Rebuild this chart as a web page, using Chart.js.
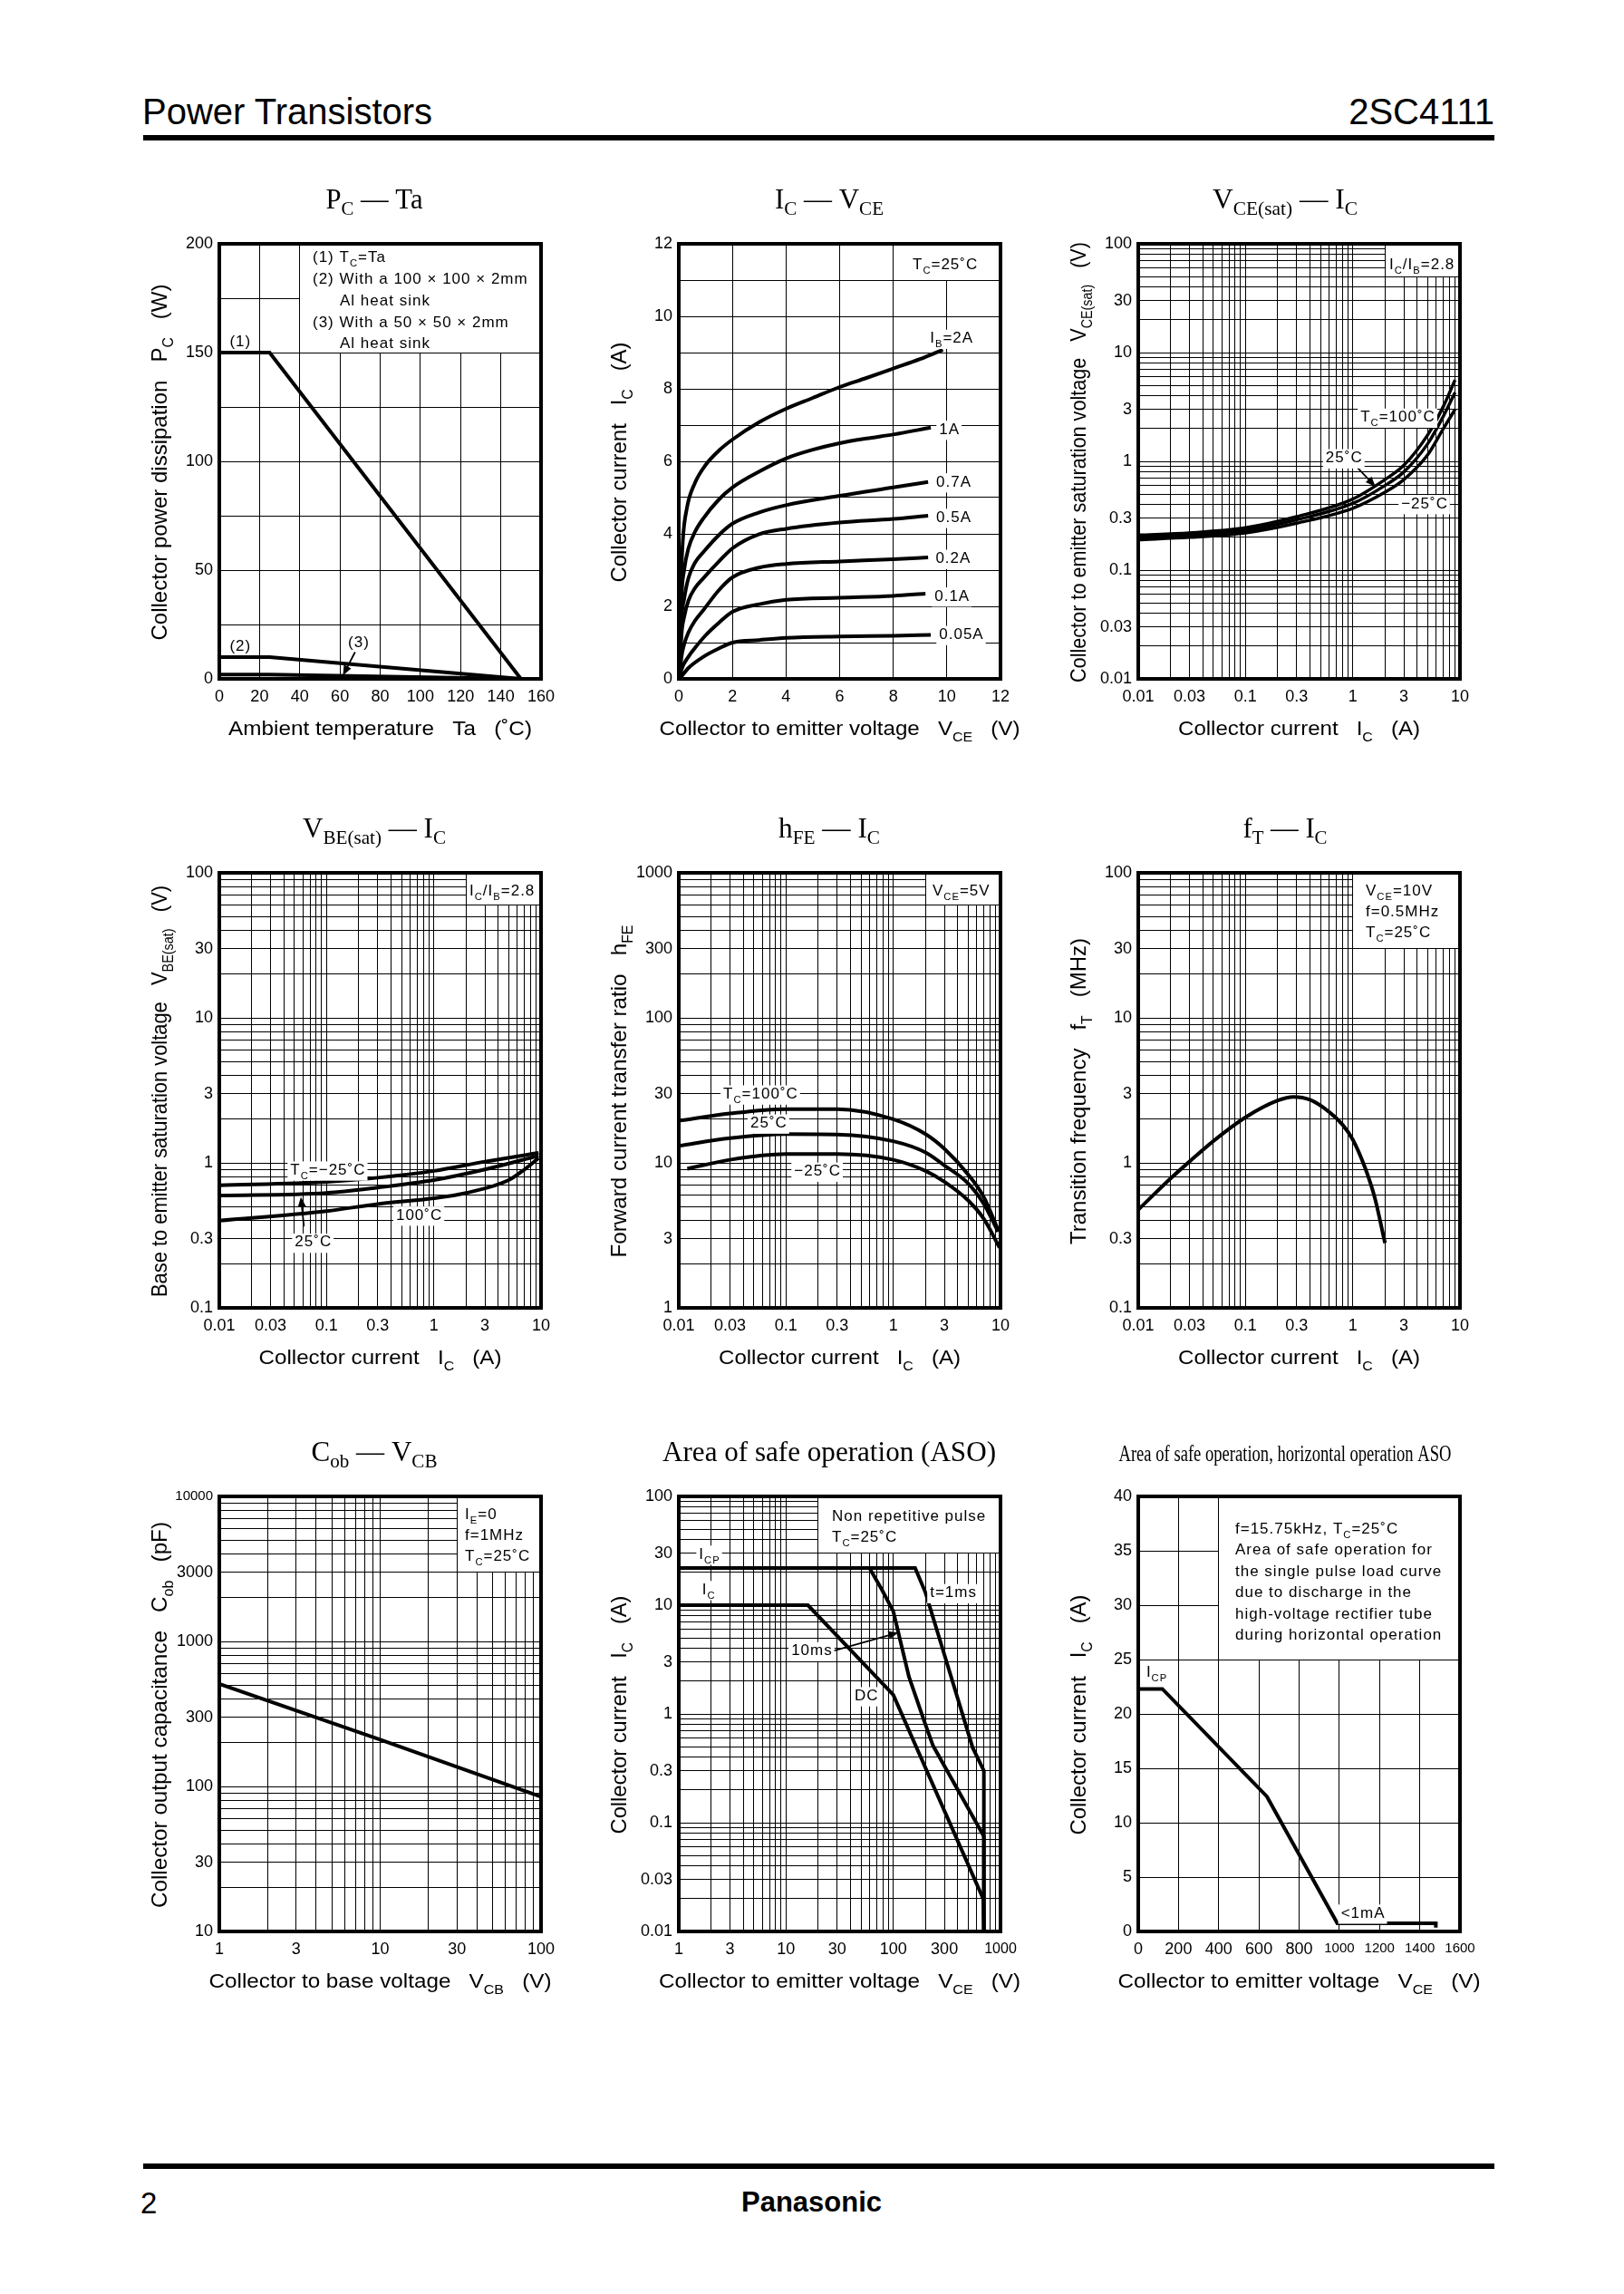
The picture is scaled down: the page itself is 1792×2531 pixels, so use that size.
<!DOCTYPE html>
<html>
<head>
<meta charset="utf-8">
<title>2SC4111</title>
<script src="https://cdn.jsdelivr.net/npm/chart.js@4.4.1/dist/chart.umd.min.js"></script>
<style>
  html, body { margin: 0; padding: 0; background: #fff; }
  body { position: relative; width: 1792px; height: 2531px; overflow: hidden; font-family: "Liberation Sans", Arial, sans-serif; color: #000; }
  .txt { position: absolute; white-space: nowrap; line-height: 1; }
  .rule { position: absolute; background: #000; }
  canvas { position: absolute; }
</style>
</head>
<body>
<div class="txt" style="left:157px; top:103px; font-size:40px;">Power Transistors</div>
<div class="txt" style="right:143px; top:103px; font-size:40px;">2SC4111</div>
<div class="rule" style="left:158px; top:149px; width:1491px; height:6px;"></div>
<div class="rule" style="left:158px; top:2387px; width:1491px; height:6px;"></div>
<div class="txt" style="left:155px; top:2414px; font-size:33px;">2</div>
<div class="txt" style="left:818px; top:2414px; font-size:31px; font-weight:bold;">Panasonic</div>

<script>
const SANS = '"Liberation Sans", Arial, Helvetica, sans-serif';
const SERIF = '"Liberation Serif", "Times New Roman", serif';

// ---------- values ----------
// Pc - Ta   [Ta (C), Pc (W)]
const pcTcEqTa = [[0,150],[25,150],[150,0]];
const pcSink100 = [[0,10],[25,10],[150,0]];
const pcSink50 = [[0,2],[25,2],[150,0]];
const taTicks = ['0','20','40','60','80','100','120','140','160'];
const pcTicks = ['0','50','100','150','200'];

// Ic - Vce   [Vce (V), Ic (A)]
const ib2A = [[0.03,0],[0.08,2.5],[0.15,3.8],[0.3,4.7],[0.6,5.4],[1,5.9],[1.5,6.3],[2,6.6],[3,7.08],[4,7.45],[5,7.75],[6,8.05],[7,8.3],[8,8.56],[9,8.82],[9.85,9.08]];
const ib1A = [[0.03,0],[0.1,2.2],[0.2,3.0],[0.36,3.6],[0.6,4.05],[0.92,4.43],[1.5,4.95],[2,5.28],[3,5.72],[4,6.08],[5,6.32],[6,6.5],[7,6.63],[8,6.74],[9.4,6.93]];
const ib07A = [[0.03,0],[0.1,1.6],[0.2,2.2],[0.36,2.78],[0.6,3.2],[0.92,3.5],[1.5,3.97],[2,4.28],[3,4.59],[4,4.79],[6,5.05],[8,5.28],[9.3,5.43]];
const ib05A = [[0.03,0],[0.1,1.2],[0.2,1.7],[0.36,2.16],[0.6,2.5],[0.92,2.78],[1.5,3.24],[2,3.6],[3,3.99],[4,4.14],[6,4.31],[8,4.41],[9.3,4.5]];
const ib02A = [[0.03,0],[0.1,0.6],[0.2,0.95],[0.36,1.28],[0.6,1.6],[0.92,1.9],[1.5,2.45],[2,2.8],[3,3.07],[4,3.17],[6,3.24],[8,3.3],[9.3,3.35]];
const ib01A = [[0.03,0],[0.1,0.25],[0.36,0.61],[0.6,0.85],[1,1.2],[1.5,1.55],[2,1.85],[3,2.06],[4,2.18],[6,2.24],[8,2.29],[9.2,2.35]];
const ib005A = [[0.03,0],[0.36,0.3],[0.92,0.61],[1.5,0.84],[2,1.0],[3,1.07],[4,1.13],[6,1.17],[8,1.19],[9.4,1.21]];
const vce12Ticks = ['0','2','4','6','8','10','12'];
const ic12Ticks = ['0','2','4','6','8','10','12'];

// Vce(sat) - Ic   [Ic (A), Vce(sat) (V)]
const vceSat100 = [[0.01,0.21],[0.03,0.22],[0.1,0.245],[0.3,0.31],[1,0.45],[2,0.68],[3,0.92],[5,1.75],[7,3.2],[9,5.6]];
const vceSat25 = [[0.01,0.2],[0.03,0.21],[0.1,0.232],[0.3,0.29],[1,0.41],[2,0.6],[3,0.8],[5,1.45],[7,2.6],[9,4.3]];
const vceSatM25 = [[0.01,0.19],[0.03,0.2],[0.1,0.22],[0.3,0.27],[1,0.37],[2,0.52],[3,0.68],[5,1.15],[7,2.0],[9,3.0]];
const icTicks = ['0.01','0.03','0.1','0.3','1','3','10'];
const vceSatTicks = ['0.01','0.03','0.1','0.3','1','3','10','30','100'];

// Vbe(sat) - Ic   [Ic (A), Vbe(sat) (V)]
const vbeSatM25 = [[0.01,0.70],[0.1,0.74],[0.3,0.79],[1,0.88],[3,1.02],[9.5,1.17]];
const vbeSat25 = [[0.01,0.595],[0.1,0.62],[0.3,0.675],[1,0.76],[3,0.9],[9.5,1.12]];
const vbeSat100 = [[0.01,0.40],[0.1,0.465],[0.3,0.52],[1,0.57],[2,0.62],[5,0.76],[7,0.9],[9.5,1.08]];
const vbeSatTicks = ['0.1','0.3','1','3','10','30','100'];

// hFE - Ic   [Ic (A), hFE]
const hfe100 = [[0.01,19.5],[0.03,21.9],[0.1,23.5],[0.3,23.5],[1,20],[2,15.8],[3,12.5],[5,8.3],[7,5.8],[9.5,3.45]];
const hfe25 = [[0.01,13.1],[0.03,14.8],[0.1,15.8],[0.3,15.7],[1,14.1],[2,11.8],[3,9.6],[5,7.2],[7,5.2],[9.5,3.35]];
const hfeM25 = [[0.012,9.1],[0.03,10.5],[0.1,11.5],[0.3,11.5],[1,10.5],[2,8.8],[3,7.4],[5,5.5],[7,4.1],[9.8,2.6]];
const hfeTicks = ['1','3','10','30','100','300','1000'];

// fT - Ic   [Ic (A), fT (MHz)]
const fT = [[0.01,0.475],[0.02,0.78],[0.03,1.02],[0.05,1.41],[0.1,2.06],[0.2,2.69],[0.28,2.85],[0.4,2.72],[0.6,2.25],[0.8,1.84],[1,1.45],[1.3,0.93],[1.6,0.58],[2,0.28]];
const fTTicks = ['0.1','0.3','1','3','10','30','100'];

// Cob - Vcb   [Vcb (V), Cob (pF)]
const cob = [[1,510],[10,210],[100,85]];
const vcbTicks = ['1','3','10','30','100'];
const cobTicks = ['10','30','100','300','1000','3000','10000'];

// ASO   [Vce (V), Ic (A)]
const aso1ms = [[1,22],[160,22],[200,13],[300,3.5],[550,0.49],[700,0.3],[700,0.01]];
const aso10ms = [[1,22],[60,22],[78,14],[100,8.8],[140,2.2],[195,0.85],[235,0.51],[700,0.075],[700,0.01]];
const asoDC = [[1,10],[16,10],[100,1.5],[690,0.02],[700,0.01]];
const asoVceTicks = ['1','3','10','30','100','300','1000'];
const asoIcTicks = ['0.01','0.03','0.1','0.3','1','3','10','30','100'];

// horizontal operation ASO   [Vce (V), Ic (A)]
const hAso = [[0,22.3],[120,22.3],[640,12.4],[990,0.75],[1480,0.75],[1480,0.35]];
const hVceTicks = ['0','200','400','600','800','1000','1200','1400','1600'];
const hIcTicks = ['0','5','10','15','20','25','30','35','40'];

// ---------- layout of the page ----------
const COLS = [242, 749, 1256];
const ROWS = [[269, 480], [963, 480], [1651, 480]];
const TITLE_DX = [171, 166, 162];
const PAD_L = 110, PAD_T = 75, PAD_R = 40, PAD_B = 88, PLOT_W = 355;
const TICK_FONT = { family: SANS, size: 18 };

function parseRich(s) {
  const out = []; const re = /_\{([^}]*)\}/g; let last = 0, m;
  while ((m = re.exec(s))) {
    if (m.index > last) out.push([s.slice(last, m.index), false]);
    out.push([m[1], true]);
    last = re.lastIndex;
  }
  if (last < s.length) out.push([s.slice(last), false]);
  return out;
}

function drawRich(ctx, str, x, y, o) {
  const size = o.size || 17, fam = o.family || SANS, wt = o.weight || 'normal';
  const subSize = size * (o.subScale || 0.66), drop = size * (o.subDrop || 0.3);
  const parts = parseRich(str);
  ctx.save();
  ctx.translate(x, y);
  if (o.rotate) ctx.rotate(o.rotate);
  if ('letterSpacing' in ctx) ctx.letterSpacing = (o.spacing || 0) + 'px';
  const widths = parts.map(([t, sub]) => { ctx.font = wt + ' ' + (sub ? subSize : size) + 'px ' + fam; return ctx.measureText(t).width; });
  const natural = widths.reduce((s, w) => s + w, 0);
  let k = 1;
  if (o.width) k = o.width / natural;
  else if (o.maxWidth && natural > o.maxWidth) k = o.maxWidth / natural;
  const tw = natural * k;
  const left = o.align === 'center' ? -tw / 2 : o.align === 'right' ? -tw : 0;
  if (o.bg) { ctx.fillStyle = '#fff'; ctx.fillRect(left - 3, -size * 0.85, tw + 5, size * 1.25); }
  ctx.scale(k, 1);
  ctx.fillStyle = '#000'; ctx.textAlign = 'left'; ctx.textBaseline = 'alphabetic';
  let cx = left / k;
  parts.forEach(([t, sub], i) => {
    ctx.font = wt + ' ' + (sub ? subSize : size) + 'px ' + fam;
    ctx.fillText(t, cx, sub ? drop : 0);
    cx += widths[i];
  });
  ctx.restore();
}

function decadeTicks(min, max) {
  const out = [];
  for (let e = Math.round(Math.log10(min)); e < Math.round(Math.log10(max)); e++)
    for (let m = 1; m < 10; m++) out.push(Number((m * Math.pow(10, e)).toPrecision(4)));
  out.push(max);
  return out;
}

function tickText(v, labels) {
  const hit = labels.find(l => Math.abs(Number(l) - v) <= 1e-9 + 1e-6 * Math.abs(v));
  return hit === undefined ? '' : hit;
}

function axis(isX, a) {
  const s = {
    type: a.log ? 'logarithmic' : 'linear',
    min: a.min, max: a.max,
    border: { display: false },
    grid: { color: '#000', lineWidth: 1, drawTicks: false },
    ticks: {
      color: '#000', font: a.font || TICK_FONT,
      padding: isX ? 9.5 : 7, autoSkip: false, maxRotation: 0, minRotation: 0,
      callback: v => tickText(v, a.labels)
    },
    afterFit: sc => {
      if (isX) sc.height = PAD_B; else sc.width = PAD_L;
      sc.paddingLeft = sc.paddingRight = sc.paddingTop = sc.paddingBottom = 0;
    }
  };
  if (a.log) s.afterBuildTicks = sc => { sc.ticks = decadeTicks(a.min, a.max).map(v => ({ value: v })); };
  else s.ticks.stepSize = a.step;
  return s;
}

// smaller face for the widest tick labels, as on the sheet
function shrinkFrom(limit, size) {
  return c => ({ family: SANS, size: c.tick && c.tick.value >= limit ? size : 18 });
}

function arrow(ctx, x0, y0, x1, y1) {
  const ang = Math.atan2(y1 - y0, x1 - x0), L = 11, W = 4.5;
  ctx.beginPath(); ctx.moveTo(x0, y0); ctx.lineTo(x1 - L * 0.7 * Math.cos(ang), y1 - L * 0.7 * Math.sin(ang));
  ctx.lineWidth = 1.8; ctx.stroke();
  ctx.beginPath();
  ctx.moveTo(x1, y1);
  ctx.lineTo(x1 - L * Math.cos(ang) + W * Math.sin(ang), y1 - L * Math.sin(ang) - W * Math.cos(ang));
  ctx.lineTo(x1 - L * Math.cos(ang) - W * Math.sin(ang), y1 - L * Math.sin(ang) + W * Math.cos(ang));
  ctx.closePath(); ctx.fill();
}

function paper(spec) {
  return {
    id: 'paper',
    beforeDatasetsDraw(chart) {
      const ctx = chart.ctx, a = chart.chartArea, X = chart.scales.x, Y = chart.scales.y;
      ctx.save();
      if (spec.box) {
        const lx = Math.round(X.getPixelForValue(spec.box[0]) - 0.5) + 1;
        const by = Math.round(Y.getPixelForValue(spec.box[1]) - 0.5);
        ctx.fillStyle = '#fff';
        ctx.fillRect(lx, a.top, a.right - lx, by - a.top);
      }
      ctx.strokeStyle = '#000'; ctx.lineWidth = 4;
      ctx.strokeRect(a.left, a.top, a.right - a.left, a.bottom - a.top);
      ctx.restore();
    },
    afterDatasetsDraw(chart) {
      const ctx = chart.ctx, a = chart.chartArea, X = chart.scales.x, Y = chart.scales.y;
      ctx.save();
      ctx.fillStyle = '#000'; ctx.strokeStyle = '#000';
      (spec.arrows || []).forEach(r => arrow(ctx, X.getPixelForValue(r[0]), Y.getPixelForValue(r[1]), X.getPixelForValue(r[2]), Y.getPixelForValue(r[3])));
      (spec.labels || []).forEach(l => {
        const o = l[3] || {};
        drawRich(ctx, l[2], X.getPixelForValue(l[0]), Y.getPixelForValue(l[1]) + 6, { size: 17, spacing: 1, align: o.align || 'left', bg: o.bg !== false });
      });
      (spec.notes || []).forEach(n => drawRich(ctx, n[2], a.left + n[0], a.top + n[1], { size: 17, spacing: 1 }));
      ctx.restore();
    },
    afterDraw(chart) {
      const ctx = chart.ctx, a = chart.chartArea;
      drawRich(ctx, spec.title, a.left + TITLE_DX[spec.col], a.top - 39,
        { size: spec.titleSize || 31, family: SERIF, align: 'center', subScale: 0.68, subDrop: 0.22, width: spec.titleW });
      drawRich(ctx, spec.xTitle, (a.left + a.right) / 2, a.bottom + 62,
        { size: 22, align: 'center', width: spec.xTitleW });
      drawRich(ctx, spec.yTitle, a.left - 58, (a.top + a.bottom) / 2 + 1,
        { size: 24, align: 'center', rotate: -Math.PI / 2, width: spec.yTitleW });
    }
  };
}

function panel(spec) {
  const [top, h] = ROWS[spec.row];
  const cv = document.createElement('canvas');
  cv.width = PLOT_W + PAD_L + PAD_R; cv.height = h + PAD_T + PAD_B;
  cv.style.left = (COLS[spec.col] - PAD_L) + 'px';
  cv.style.top = (top - PAD_T) + 'px';
  document.body.appendChild(cv);
  new Chart(cv, {
    type: 'line',
    data: {
      datasets: spec.series.map(s => ({
        data: s.pts.map(p => ({ x: p[0], y: p[1] })),
        borderColor: '#000', borderWidth: s.w || 4, pointRadius: 0, fill: false,
        cubicInterpolationMode: s.smooth ? 'monotone' : 'default', tension: 0
      }))
    },
    options: {
      responsive: false, animation: false, events: [],
      layout: { padding: { left: 0, top: PAD_T, right: PAD_R, bottom: 0 } },
      scales: { x: axis(true, spec.x), y: axis(false, spec.y) },
      plugins: { legend: { display: false }, tooltip: { enabled: false } }
    },
    plugins: [paper(spec)]
  });
}

const ICTITLE = 'Collector current   I_{C}   (A)';

panel({
  col: 0, row: 0, title: 'P_{C} — Ta', titleW: 107,
  xTitle: 'Ambient temperature   Ta   (˚C)', xTitleW: 335,
  yTitle: 'Collector power dissipation   P_{C}   (W)', yTitleW: 393,
  x: { min: 0, max: 160, step: 20, labels: taTicks },
  y: { min: 0, max: 200, step: 25, labels: pcTicks },
  series: [{ pts: pcTcEqTa }, { pts: pcSink100 }, { pts: pcSink50 }],
  box: [40, 150],
  notes: [[103, 20, '(1) T_{C}=Ta'], [103, 44, '(2) With a 100 × 100 × 2mm'], [133, 67.5, 'Al heat sink'],
          [103, 91.5, '(3) With a 50 × 50 × 2mm'], [133, 115, 'Al heat sink']],
  labels: [[10.5, 155.5, '(1)', { align: 'center', bg: false }], [10.5, 15.3, '(2)', { align: 'center', bg: false }],
           [69.4, 17, '(3)', { align: 'center', bg: false }]],
  arrows: [[67.5, 12.3, 61.5, 1.6]]
});

panel({
  col: 1, row: 0, title: 'I_{C} — V_{CE}', titleW: 120,
  xTitle: 'Collector to emitter voltage   V_{CE}   (V)', xTitleW: 398,
  yTitle: ICTITLE, yTitleW: 265,
  x: { min: 0, max: 12, step: 2, labels: vce12Ticks },
  y: { min: 0, max: 12, step: 1, labels: ic12Ticks },
  series: [ib2A, ib1A, ib07A, ib05A, ib02A, ib01A, ib005A].map(p => ({ pts: p, smooth: true })),
  box: [8, 11],
  notes: [[258, 28, 'T_{C}=25˚C']],
  labels: [[9.37, 9.42, 'I_{B}=2A'], [9.71, 6.91, '1A'], [9.6, 5.46, '0.7A'], [9.6, 4.48, '0.5A'],
           [9.58, 3.35, '0.2A'], [9.54, 2.31, '0.1A'], [9.71, 1.25, '0.05A']]
});

panel({
  col: 2, row: 0, title: 'V_{CE(sat)} — I_{C}', titleW: 160,
  xTitle: ICTITLE, xTitleW: 267,
  yTitle: 'Collector to emitter saturation voltage   V_{CE(sat)}   (V)', yTitleW: 486,
  x: { log: true, min: 0.01, max: 10, labels: icTicks },
  y: { log: true, min: 0.01, max: 100, labels: vceSatTicks },
  series: [vceSat100, vceSat25, vceSatM25].map(p => ({ pts: p, smooth: true, w: 3.5 })),
  box: [2, 50],
  notes: [[277, 28, 'I_{C}/I_{B}=2.8']],
  labels: [[1.18, 2.6, 'T_{C}=100˚C'], [0.56, 1.1, '25˚C'], [2.83, 0.417, '−25˚C']],
  arrows: [[1.07, 0.905, 1.63, 0.585]]
});

panel({
  col: 0, row: 1, title: 'V_{BE(sat)} — I_{C}', titleW: 158,
  xTitle: ICTITLE, xTitleW: 268,
  yTitle: 'Base to emitter saturation voltage   V_{BE(sat)}   (V)', yTitleW: 454,
  x: { log: true, min: 0.01, max: 10, labels: icTicks },
  y: { log: true, min: 0.1, max: 100, labels: vbeSatTicks },
  series: [vbeSatM25, vbeSat25, vbeSat100].map(p => ({ pts: p, smooth: true })),
  box: [2, 60],
  notes: [[276, 24.5, 'I_{C}/I_{B}=2.8']],
  labels: [[0.0459, 0.906, 'T_{C}=−25˚C'], [0.444, 0.443, '100˚C'], [0.0506, 0.288, '25˚C']],
  arrows: [[0.0615, 0.3645, 0.0576, 0.583]]
});

panel({
  col: 1, row: 1, title: 'h_{FE} — I_{C}', titleW: 112,
  xTitle: ICTITLE, xTitleW: 267,
  yTitle: 'Forward current transfer ratio   h_{FE}', yTitleW: 367,
  x: { log: true, min: 0.01, max: 10, labels: icTicks },
  y: { log: true, min: 1, max: 1000, labels: hfeTicks },
  series: [hfe100, hfe25, hfeM25].map(p => ({ pts: p, smooth: true })),
  box: [2, 600],
  notes: [[280, 24.5, 'V_{CE}=5V']],
  labels: [[0.026, 30.3, 'T_{C}=100˚C'], [0.0465, 19.1, '25˚C'], [0.119, 8.9, '−25˚C']]
});

panel({
  col: 2, row: 1, title: 'f_{T} — I_{C}', titleW: 93,
  xTitle: ICTITLE, xTitleW: 267,
  yTitle: 'Transition frequency   f_{T}   (MHz)', yTitleW: 338,
  x: { log: true, min: 0.01, max: 10, labels: icTicks },
  y: { log: true, min: 0.1, max: 100, labels: fTTicks },
  series: [{ pts: fT, smooth: true }],
  box: [1, 30],
  notes: [[251, 24.5, 'V_{CE}=10V'], [251, 47.7, 'f=0.5MHz'], [251, 71.3, 'T_{C}=25˚C']]
});

panel({
  col: 0, row: 2, title: 'C_{ob} — V_{CB}', titleW: 139,
  xTitle: 'Collector to base voltage   V_{CB}   (V)', xTitleW: 378,
  yTitle: 'Collector output capacitance   C_{ob}   (pF)', yTitleW: 426,
  x: { log: true, min: 1, max: 100, labels: vcbTicks },
  y: { log: true, min: 10, max: 10000, labels: cobTicks, font: shrinkFrom(10000, 15) },
  series: [{ pts: cob }],
  box: [30, 3000],
  notes: [[271, 25.3, 'I_{E}=0'], [271, 48.1, 'f=1MHz'], [271, 71.3, 'T_{C}=25˚C']]
});

panel({
  col: 1, row: 2, title: 'Area of safe operation (ASO)', titleW: 368,
  xTitle: 'Collector to emitter voltage   V_{CE}   (V)', xTitleW: 399,
  yTitle: ICTITLE, yTitleW: 263,
  x: { log: true, min: 1, max: 1000, labels: asoVceTicks, font: shrinkFrom(1000, 16) },
  y: { log: true, min: 0.01, max: 100, labels: asoIcTicks },
  series: [{ pts: aso1ms }, { pts: aso10ms }, { pts: asoDC }],
  box: [20, 30],
  notes: [[169, 26.5, 'Non repetitive pulse'], [169, 49.7, 'T_{C}=25˚C']],
  labels: [[1.545, 30, 'I_{CP}'], [1.65, 14.2, 'I_{C}'], [220, 13.3, 't=1ms'], [11.2, 3.89, '10ms'], [43.6, 1.5, 'DC']],
  arrows: [[27.7, 3.8, 111.6, 5.6]]
});

panel({
  col: 2, row: 2, title: 'Area of safe operation, horizontal operation ASO', titleW: 367, titleSize: 25,
  xTitle: 'Collector to emitter voltage   V_{CE}   (V)', xTitleW: 400,
  yTitle: ICTITLE, yTitleW: 265,
  x: { min: 0, max: 1600, step: 200, labels: hVceTicks, font: shrinkFrom(1000, 15) },
  y: { min: 0, max: 40, step: 5, labels: hIcTicks },
  series: [{ pts: hAso }],
  box: [400, 25],
  notes: [[107, 40.8, 'f=15.75kHz, T_{C}=25˚C'], [107, 64.4, 'Area of safe operation for'], [107, 87.6, 'the single pulse load curve'],
          [107, 111.3, 'due to discharge in the'], [107, 134.5, 'high-voltage rectifier tube'], [107, 157.8, 'during horizontal operation']],
  labels: [[40, 23.9, 'I_{CP}'], [1008, 1.77, '<1mA']]
});
</script>
</body>
</html>
